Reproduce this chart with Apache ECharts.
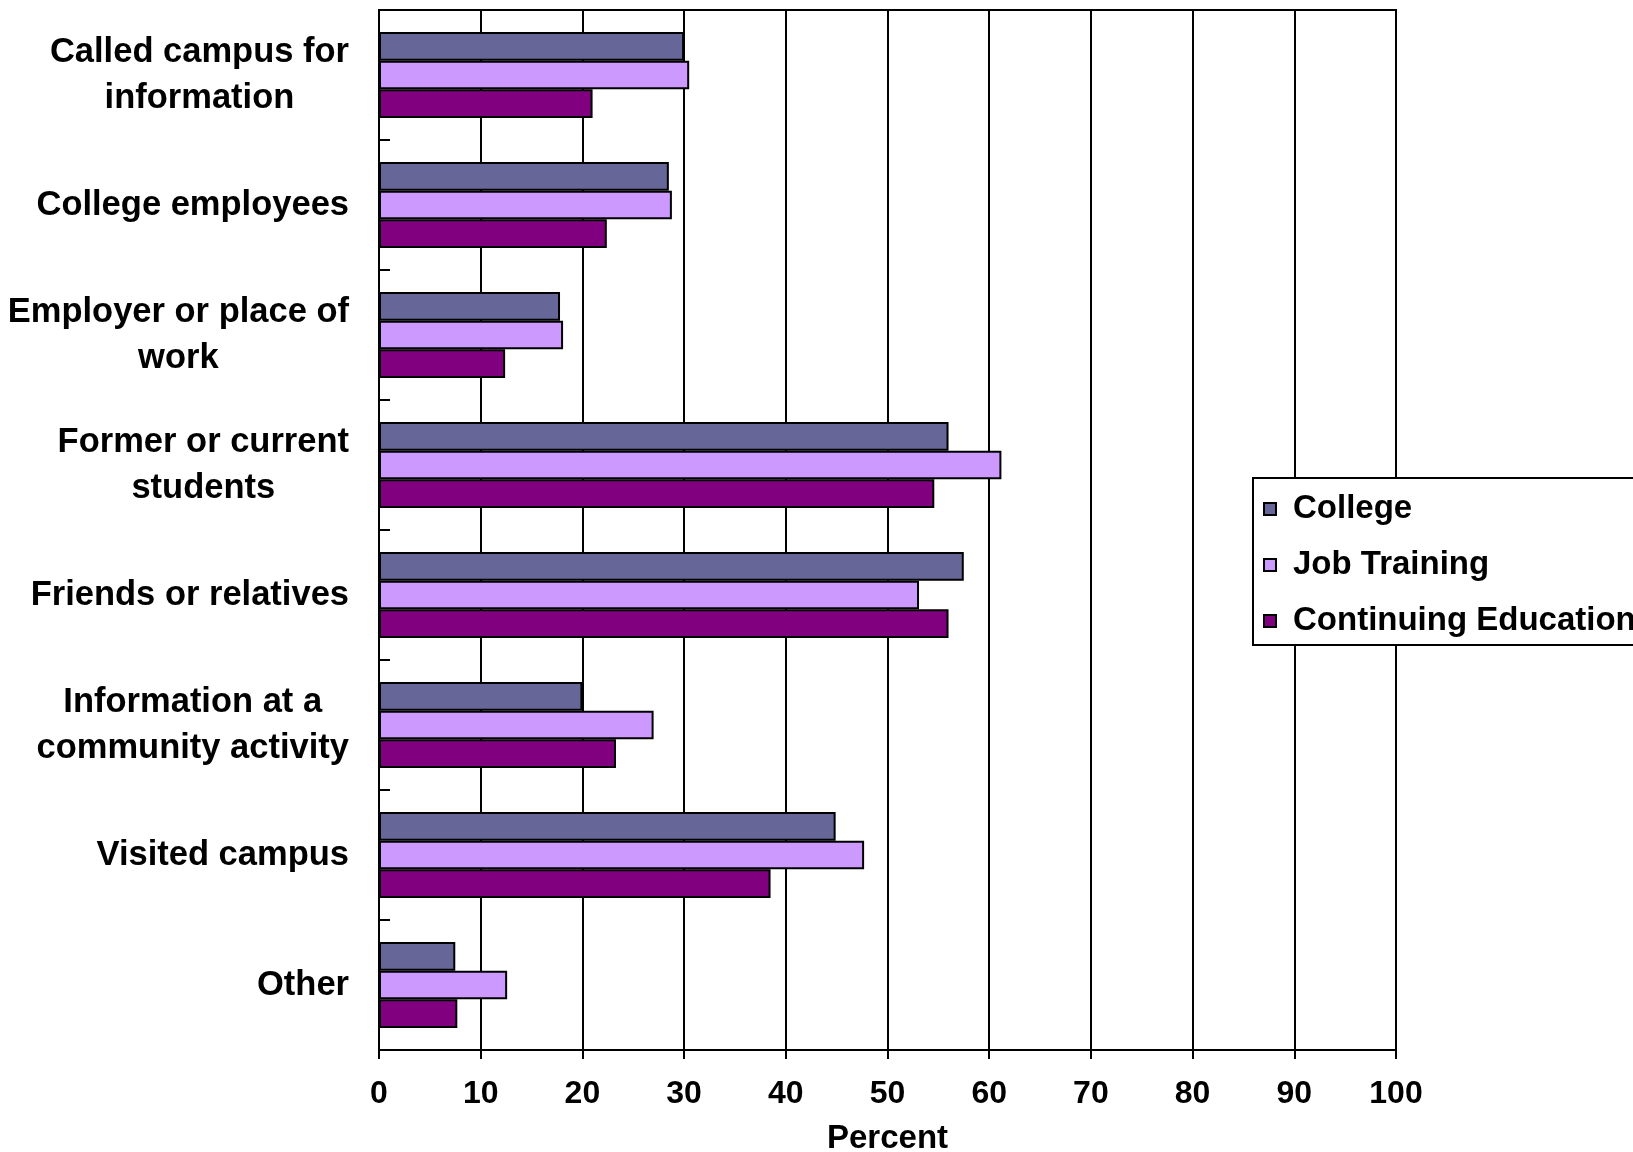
<!DOCTYPE html>
<html>
<head>
<meta charset="utf-8">
<script src="https://cdn.jsdelivr.net/npm/echarts@6/dist/echarts.min.js"></script>
<style>
  html, body { margin: 0; padding: 0; background: #fff; }
  #chart { width: 1633px; height: 1152px; }
</style>
</head>
<body>
<div id="chart"></div>
<script>
// categories, top to bottom
var categories = [
  'Called campus for\ninformation',
  'College employees',
  'Employer or place of\nwork',
  'Former or current\nstudents',
  'Friends or relatives',
  'Information at a\ncommunity activity',
  'Visited campus',
  'Other'
];
var seriesNames = ['College', 'Job Training', 'Continuing Education'];
var college = [30.0, 28.5, 17.8, 56.0, 57.5, 20.0, 44.9, 7.5];
var jobTraining = [30.5, 28.8, 18.1, 61.2, 53.1, 27.0, 47.7, 12.6];
var continuingEd = [21.0, 22.4, 12.4, 54.6, 56.0, 23.3, 38.5, 7.7];
var xTicks = [0, 100, 10]; // min, max, interval

var colors = ['#666699', '#CC99FF', '#800080'];
var font = "'Liberation Sans', Arial, sans-serif";

var chart = echarts.init(document.getElementById('chart'));

function makeSeries(name, data, color) {
  return {
    name: name,
    type: 'bar',
    data: data,
    barGap: '0%',
    barCategoryGap: '34%',
    itemStyle: { color: color, borderColor: '#000', borderWidth: 2 }
  };
}

var option = {
  animation: false,
  backgroundColor: '#fff',
  grid: {
    left: 379, right: 237, top: 10, bottom: 102,
    outerBoundsMode: 'none',
    containLabel: false,
    show: true, borderColor: '#000', borderWidth: 2, backgroundColor: 'transparent'
  },
  legend: {
    orient: 'vertical',
    left: 1253,
    top: 478,
    padding: [14, 40, 7, 10],
    itemGap: 22,
    itemWidth: 12,
    itemHeight: 12,
    borderColor: '#000',
    borderWidth: 2,
    backgroundColor: '#fff',
    icon: 'rect',
    data: seriesNames,
    textStyle: {
      fontFamily: font, fontWeight: 'bold', fontSize: 33, color: '#000',
      lineHeight: 34, padding: [0, 0, 0, 12]
    }
  },
  xAxis: {
    type: 'value',
    min: xTicks[0], max: xTicks[1], interval: xTicks[2],
    name: 'Percent',
    nameLocation: 'middle',
    nameGap: 72,
    nameTextStyle: { fontFamily: font, fontWeight: 'bold', fontSize: 33, color: '#000' },
    axisLine: { show: true, lineStyle: { color: '#000', width: 2 } },
    axisTick: { show: true, inside: false, length: 9, lineStyle: { color: '#000', width: 2 } },
    axisLabel: { margin: 28, fontFamily: font, fontWeight: 'bold', fontSize: 32, color: '#000' },
    splitLine: { show: true, lineStyle: { color: '#000', width: 2 } }
  },
  yAxis: {
    type: 'category',
    data: categories,
    inverse: true,
    axisLine: { show: true, lineStyle: { color: '#000', width: 2 } },
    axisTick: { show: true, inside: true, length: 11, lineStyle: { color: '#000', width: 2 } },
    axisLabel: {
      margin: 30,
      formatter: function (v) {
        return v.split('\n').map(function (l) { return '{a|' + l + '}'; }).join('\n');
      },
      rich: {
        a: { fontFamily: font, fontWeight: 'bold', fontSize: 34.5, color: '#000', lineHeight: 46, align: 'center' }
      }
    }
  },
  series: [
    makeSeries(seriesNames[0], college, colors[0]),
    makeSeries(seriesNames[1], jobTraining, colors[1]),
    makeSeries(seriesNames[2], continuingEd, colors[2])
  ]
};

chart.setOption(option);
</script>
</body>
</html>
